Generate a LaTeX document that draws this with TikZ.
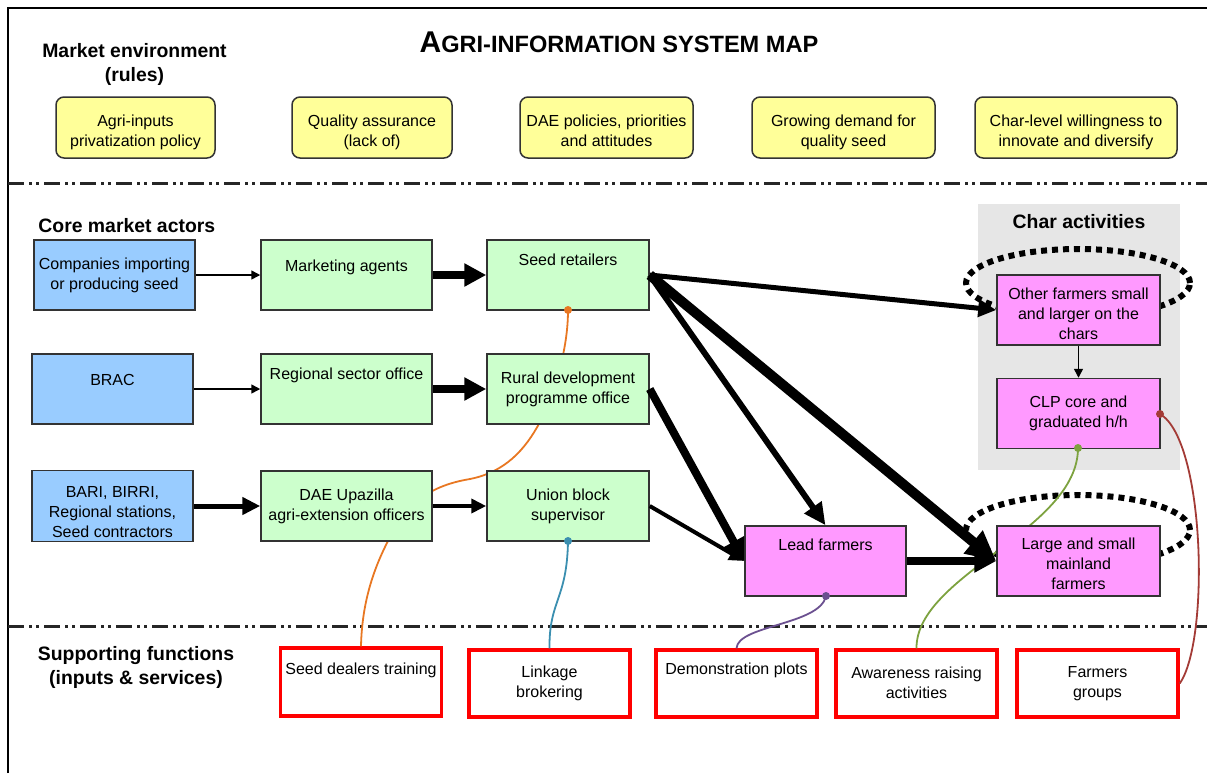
\documentclass[tikz,border=0pt]{standalone}
\usepackage{fontspec}
\setmainfont{Liberation Sans}
\usetikzlibrary{arrows.meta,calc}

\definecolor{rulefill}{HTML}{FFFF99}
\definecolor{actorfill}{HTML}{99CCFF}
\definecolor{agentfill}{HTML}{CCFFCC}
\definecolor{farmfill}{HTML}{FF99FF}
\definecolor{charfill}{HTML}{E6E6E6}
\definecolor{tieorange}{HTML}{E87722}
\definecolor{tieteal}{HTML}{3B8FB0}
\definecolor{tiepurple}{HTML}{6B5090}
\definecolor{tieolive}{HTML}{7DA23F}
\definecolor{tiebrick}{HTML}{A33B36}

\begin{document}
\begin{tikzpicture}[
  x=0.5pt,y=-0.5pt,
  font=\fontsize{8}{10}\selectfont,
  head/.style={font=\fontsize{9.7}{12}\selectfont\bfseries,align=center,inner sep=0pt},
  box/.style={draw=black!80,line width=0.75pt,align=center,inner sep=2pt},
  rulebox/.style={box,fill=rulefill,rounded corners=4pt,minimum height=30.5pt,text height=18.5pt,text depth=0pt},
  actor/.style={box,fill=actorfill,minimum width=80.5pt,minimum height=35pt},
  agent/.style={box,fill=agentfill,minimum height=35pt},
  farmer/.style={box,fill=farmfill,minimum width=81.5pt,minimum height=35pt},
  support/.style={draw=red,line width=1.75pt,align=center,inner sep=2pt,minimum width=80.5pt,minimum height=33.5pt},
  lift/.style={text height=6pt,text depth=#1},
  sink/.style={text height=#1,text depth=0pt},
  lightflow/.style={line width=0.75pt,-{Triangle[length=4.5pt,width=4.5pt]}},
  midflow/.style={line width=2pt,-{Triangle[length=7.5pt,width=7pt]}},
  boldflow/.style={line width=2.5pt,-{Triangle[length=9pt,width=8.5pt]}},
  strongflow/.style={line width=4pt,-{Triangle[length=11pt,width=11pt]}},
  heavyflow/.style={line width=5pt,-{Triangle[length=15pt,width=14pt]}},
  divider/.style={line width=1.5pt,black!85,dash pattern=on 8pt off 2.5pt on 1.5pt off 2pt on 1.5pt off 2.5pt},
  chardots/.style={line width=3pt,dash pattern=on 3pt off 2.5pt},
  tie/.style={line width=0.9pt}
]
\useasboundingbox (0,0) rectangle (1207,773);
\draw[line width=0.75pt] (8,773) -- (8,8) -- (1207,8);

% headings
\node[head,font=\fontsize{11.8}{14}\selectfont\bfseries] (title) at (619,42)
  {{\fontsize{15}{18}\selectfont A}GRI-INFORMATION SYSTEM MAP};
\node[head] (envhead) at (134.5,64) {Market environment\\(rules)};
\node[head,anchor=west] (corehead) at (38,226) {Core market actors};
\node[head] (supphead) at (136,667) {Supporting functions\\(inputs \& services)};

% market environment
\node[rulebox,minimum width=79.5pt] (rule1) at (135.5,127.5) {Agri-inputs\\privatization policy};
\node[rulebox,minimum width=80pt] (rule2) at (372,127.5) {Quality assurance\\(lack of)};
\node[rulebox,minimum width=86.5pt] (rule3) at (606.5,127.5) {DAE policies, priorities\\and attitudes};
\node[rulebox,minimum width=91.5pt] (rule4) at (843.5,127.5) {Growing demand for\\quality seed};
\node[rulebox,minimum width=101pt] (rule5) at (1076,127.5) {Char-level willingness to\\innovate and diversify};

\draw[divider] (8,183) -- (1207,183);
\draw[divider] (8,626) -- (1207,626);

% char activities panel
\node[fill=charfill,minimum width=101pt,minimum height=133pt,inner sep=0pt] (charpanel) at (1079,337) {};
\node[head] (charhead) at (1079,222) {Char activities};
\draw[chardots] (1078,283) ellipse [x radius=56pt,y radius=17pt];
\draw[chardots] (1078,530) ellipse [x radius=56pt,y radius=17.5pt];

% supporting functions
\node[support,minimum height=34pt] (sdt) at (361,682) [lift=13.2pt] {Seed dealers training};
\node[support] (link) at (549.5,683.5) {Linkage\\brokering};
\node[support] (demo) at (736.5,683.5) [lift=14.7pt] {Demonstration plots};
\node[support] (aware) at (916.5,683.5) [sink=15pt] {Awareness raising\\activities};
\node[support] (fgroup) at (1097.5,683.5) {Farmers\\groups};

% ties from supporting functions
\draw[tie,tieorange] (sdt.north) .. controls (362,600) and (375,560) .. (400,520)
  .. controls (418,495) and (440,484) .. (470,479)
  .. controls (505,472) and (525,450) .. (540,422)
  .. controls (555,390) and (568,350) .. (568,310) coordinate (orangeend);
\draw[tie,tieteal] (link.north) .. controls (549,600) and (567,600) .. (568,541) coordinate (tealend);
\draw[tie,tiepurple] (demo.north) .. controls (738,625) and (820,625) .. (826,596) coordinate (purpleend);
\draw[tie,tieolive] (aware.north) .. controls (916,575) and (1078,530) .. (1078,448) coordinate (oliveend);
\draw[tie,tiebrick] (fgroup.east) .. controls (1210,640) and (1205,440) .. (1160,414) coordinate (brickend);

% core market actors
\node[actor] (comp) at (114.5,275) {Companies importing\\or producing seed};
\node[actor] (brac) at (112.5,389) [lift=9.2pt] {BRAC};
\node[actor] (bari) at (112.5,506) [sink=31.7pt] {BARI, BIRRI,\\Regional stations,\\Seed contractors};

\node[agent,minimum width=85.5pt] (mkt) at (346.5,275) [lift=9.2pt] {Marketing agents};
\node[agent,minimum width=85.5pt] (regional) at (346.5,389) [lift=15.2pt] {Regional sector office};
\node[agent,minimum width=85.5pt] (dae) at (346.5,506) {DAE Upazilla\\agri-extension officers};

\node[agent,minimum width=81pt] (ret) at (568,275) [lift=15.2pt] {Seed retailers};
\node[agent,minimum width=81pt] (rural) at (568,389) {Rural development\\programme office};
\node[agent,minimum width=81pt] (union) at (568,506) {Union block\\supervisor};

\node[farmer] (other) at (1078.5,310) [sink=29.7pt] {Other farmers small\\and larger on the\\chars};
\node[farmer] (clp) at (1078.5,413.5) {CLP core and\\graduated h/h};
\node[farmer,minimum width=80.5pt] (lead) at (825.5,561) [lift=16.2pt] {Lead farmers};
\node[farmer] (large) at (1078.5,561) [sink=28.7pt] {Large and small\\mainland\\farmers};

% flows
\draw[lightflow] (comp) -- (mkt);
\draw[lightflow] (brac) -- (regional);
\draw[boldflow] (bari) -- (dae);
\draw[strongflow] (mkt) -- (ret);
\draw[strongflow] (regional) -- (rural);
\draw[midflow] (dae) -- (union);
\draw[boldflow] (ret.east) -- (other.west);
\draw[line width=3pt,-{Triangle[length=11pt,width=10pt]}] (ret.east) -- (lead.north);
\draw[heavyflow] (ret.east) -- (large.west);
\draw[strongflow] (rural.east) -- (lead.west);
\draw[midflow] (union.east) -- (lead.west);
\draw[strongflow] (lead) -- (large);
\draw[lightflow] (other) -- (clp);

% tie ends
\fill[tieorange] (orangeend) circle (2pt);
\fill[tieteal] (tealend) circle (2pt);
\fill[tiepurple] (purpleend) circle (2pt);
\fill[tieolive] (oliveend) circle (2pt);
\fill[tiebrick] (brickend) circle (2pt);
\end{tikzpicture}
\end{document}
